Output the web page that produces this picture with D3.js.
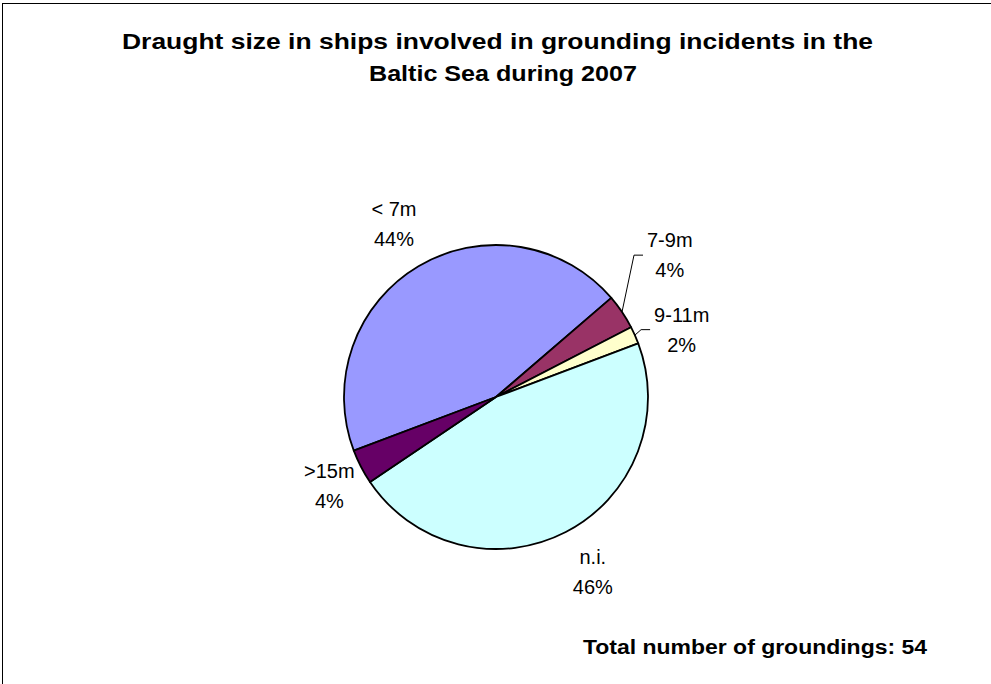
<!DOCTYPE html>
<html>
<head>
<meta charset="utf-8">
<script src="https://cdn.jsdelivr.net/npm/d3@7"></script>
<style>
  body { margin: 0; background: #fff; }
  svg { display: block; font-family: Arial, "Liberation Sans", sans-serif; }
</style>
</head>
<body>
<svg width="991" height="684"></svg>
<script>
// data (count of groundings per draught class, total 54)
const categories = ["< 7m", "7-9m", "9-11m", "n.i.", ">15m"];
const counts = [24, 2, 1, 25, 2];
const colors = ["#9999FF", "#993366", "#FFFFCC", "#CCFFFF", "#660066"];
const titleLines = ["Draught size in ships involved in grounding incidents in the", "Baltic Sea during 2007"];
const totalNote = "Total number of groundings: 54";

// layout
const cx = 496, cy = 397, r = 152;
const firstAngle = -110.67 * Math.PI / 180;   // where "< 7m" starts
const labelRadius = 200;
// small nudges like excel "best fit" does, per slice [dx, dy]
const labelNudge = [[0, -1], [8, -30], [3, 14], [5, -3], [11, -3]];
const withLeader = [false, true, true, false, false];

let svg = d3.select("svg");

// chart border (only top/left visible in the frame)
svg.append("rect")
  .attr("x", 2.5).attr("y", 3.5)
  .attr("width", 1000).attr("height", 700)
  .attr("fill", "none")
  .attr("stroke", "#000")
  .attr("stroke-width", 1);

// title
svg.append("text")
  .attr("x", 122).attr("y", 49)
  .attr("textLength", 751).attr("lengthAdjust", "spacingAndGlyphs")
  .style("font-size", "22px").style("font-weight", "bold")
  .text(titleLines[0]);
svg.append("text")
  .attr("x", 369).attr("y", 81)
  .attr("textLength", 268).attr("lengthAdjust", "spacingAndGlyphs")
  .style("font-size", "22px").style("font-weight", "bold")
  .text(titleLines[1]);

let total = d3.sum(counts);
let rows = categories.map((c, i) => ({name: c, value: counts[i], color: colors[i], i: i}));

let pie = d3.pie()
  .value(d => d.value)
  .sort(null)
  .startAngle(firstAngle)
  .endAngle(firstAngle + 2 * Math.PI);
let arc = d3.arc().innerRadius(0).outerRadius(r);
let arcs = pie(rows);

let g = svg.append("g").attr("transform", "translate(" + cx + "," + cy + ")");

g.selectAll("path.slice")
  .data(arcs)
  .enter().append("path")
  .attr("class", "slice")
  .attr("d", arc)
  .attr("fill", d => d.data.color)
  .attr("stroke", "#000")
  .attr("stroke-width", 1.8)
  .attr("stroke-linejoin", "round");

function polar(a, rad) {
  return [Math.sin(a) * rad, -Math.cos(a) * rad];
}

// labels: name + percentage, two lines
arcs.forEach(function(d) {
  let mid = (d.startAngle + d.endAngle) / 2;
  let p = polar(mid, labelRadius);
  let lx = p[0] + labelNudge[d.data.i][0];
  let ly = p[1] + labelNudge[d.data.i][1];
  let lab = g.append("g");
  let t1 = lab.append("text")
    .attr("x", lx).attr("y", ly - 8)
    .attr("text-anchor", "middle")
    .style("font-size", "20px")
    .text(d.data.name);
  let t2 = lab.append("text")
    .attr("x", lx).attr("y", ly + 22)
    .attr("text-anchor", "middle")
    .style("font-size", "20px")
    .text(Math.round(d.data.value / total * 100) + "%");

  if (withLeader[d.data.i]) {
    let w = Math.max(t1.node().getComputedTextLength(), t2.node().getComputedTextLength());
    let left = lx - w / 2;
    let e = polar(mid, r);
    g.append("path")
      .attr("d", d3.line()([e, [left - 13, ly], [left - 4, ly]]))
      .attr("fill", "none")
      .attr("stroke", "#000")
      .attr("stroke-width", 1);
  }
});

// footnote
svg.append("text")
  .attr("x", 583).attr("y", 654)
  .attr("textLength", 344).attr("lengthAdjust", "spacingAndGlyphs")
  .style("font-size", "20px").style("font-weight", "bold")
  .text(totalNote);
</script>
</body>
</html>
